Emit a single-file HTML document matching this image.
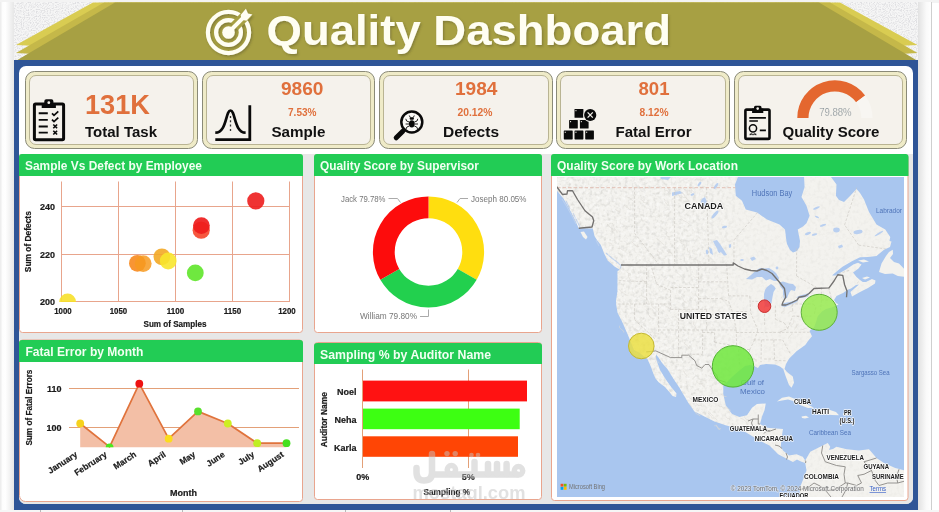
<!DOCTYPE html>
<html>
<head>
<meta charset="utf-8">
<title>Quality Dashboard</title>
<style>
html,body{margin:0;padding:0;background:#fff;}
body{width:939px;height:512px;overflow:hidden;font-family:"Liberation Sans",sans-serif;}
svg{display:block;will-change:transform;}
text{font-family:"Liberation Sans",sans-serif;}
.b{font-weight:bold;}
.ax{font-weight:bold;font-size:9px;fill:#1a1a1a;stroke:#1a1a1a;stroke-width:0.2px;}
.ttl{font-weight:bold;font-size:13px;fill:#f2fff2;}
.kv{font-weight:bold;fill:#e0703c;}
.kl{font-weight:bold;font-size:15.5px;fill:#111;}
.dl{font-size:9.5px;fill:#777;}
</style>
</head>
<body>
<svg width="939" height="512" viewBox="0 0 939 512">
<defs>
  <linearGradient id="lg" x1="0" x2="1" y1="0" y2="0">
    <stop offset="0" stop-color="#fbfbfb"/><stop offset="0.35" stop-color="#ffffff"/><stop offset="1" stop-color="#e4e4e4"/>
  </linearGradient>
  <linearGradient id="rg" x1="0" x2="1" y1="0" y2="0">
    <stop offset="0" stop-color="#e2e2e2"/><stop offset="0.6" stop-color="#fafafa"/><stop offset="1" stop-color="#ffffff"/>
  </linearGradient>
  <filter id="noise" x="0" y="0" width="100%" height="100%">
    <feTurbulence type="fractalNoise" baseFrequency="0.85" numOctaves="1" seed="11" result="n"/>
    <feColorMatrix type="matrix" values="0 0 0 0 0.74  0 0 0 0 0.74  0 0 0 0 0.76  2.6 2.6 0 0 -2.35"/>
  </filter>
  <filter id="ts" x="-5%" y="-20%" width="110%" height="150%">
    <feDropShadow dx="1.2" dy="1.5" stdDeviation="0.9" flood-color="#4a4720" flood-opacity="0.4"/>
  </filter>
  <filter id="reliefD" x="0" y="0" width="100%" height="100%" color-interpolation-filters="sRGB">
    <feTurbulence type="fractalNoise" baseFrequency="0.28" numOctaves="2" seed="4"/>
    <feColorMatrix type="matrix" values="0 0 0 0 0.62  0 0 0 0 0.62  0 0 0 0 0.60  2.4 0 0 0 -1.12"/>
  </filter>
  <filter id="reliefL" x="0" y="0" width="100%" height="100%" color-interpolation-filters="sRGB">
    <feTurbulence type="fractalNoise" baseFrequency="0.3" numOctaves="2" seed="21"/>
    <feColorMatrix type="matrix" values="0 0 0 0 1  0 0 0 0 1  0 0 0 0 1  0 2.6 0 0 -1.15"/>
  </filter>
  <linearGradient id="relg" x1="557" x2="904" y1="0" y2="0" gradientUnits="userSpaceOnUse">
    <stop offset="0" stop-color="#fff"/><stop offset="0.40" stop-color="#eee"/><stop offset="0.55" stop-color="#555"/><stop offset="1" stop-color="#3a3a3a"/>
  </linearGradient>
  <mask id="relmask" maskUnits="userSpaceOnUse" x="557" y="177" width="347" height="320"><rect x="557" y="177" width="347" height="320" fill="url(#relg)"/></mask>
  <clipPath id="wmclip"><rect x="405" y="440" width="136" height="60"/></clipPath>
  <clipPath id="mapclip"><rect x="557" y="177" width="347" height="320"/></clipPath>
  <clipPath id="sc1"><rect x="56" y="178" width="240" height="124"/></clipPath>
</defs>

<!-- page background -->
<rect x="0" y="0" width="939" height="512" fill="#ffffff"/>
<rect x="0" y="0" width="939" height="3" fill="#f3f3f3"/>
<rect x="0" y="2" width="15" height="510" fill="url(#lg)"/>
<rect x="918" y="2" width="14" height="510" fill="url(#rg)"/>
<rect x="931" y="2" width="1" height="510" fill="#cfcfcf"/>
<rect x="0" y="2" width="1.5" height="510" fill="#eeeeee"/>

<!-- speckled header background -->
<rect x="14" y="2" width="904" height="60" fill="#f6f6f6"/>
<rect x="14" y="2" width="904" height="60" filter="url(#noise)"/>

<!-- ribbon -->
<g id="ribbon">
  <polygon points="16,45 93,2.500 840,2.500 917.500,45 898,46 889,41 45,41 36,46" fill="#d9cc52"/>
  <polygon points="16,53 104,2.500 830,2.500 917.500,53 900,54 890,48.500 44,48.500 34,54" fill="#c5b849"/>
  <polygon points="16.500,60.500 115,2.500 819,2.500 917,60.500" fill="#a7a043"/>
</g>

<!-- blue frame -->
<rect x="14" y="60" width="904" height="450" fill="#2f5597"/>
<path d="M26,66 H906 a7,7 0 0 1 7,7 V497 a7,7 0 0 1 -7,7 H26 a7,7 0 0 1 -7,-7 V73 a7,7 0 0 1 7,-7 Z" fill="#ffffff"/>
<path d="M19,154 H913 V497 a7,7 0 0 1 -7,7 H26 a7,7 0 0 1 -7,-7 Z" fill="#e7e7e7"/>

<!-- bottom strip -->
<rect x="0" y="510" width="939" height="2" fill="#f6f6f6"/>
<path d="M40.500,510 V512 M182.500,510 V512 M345.500,510 V512 M450.500,510 V512" stroke="#b8b8b8" stroke-width="1" fill="none"/>

<!-- title -->
<g id="title" filter="url(#ts)">
  <g fill="none" stroke="#fffef2" stroke-width="4.200">
    <circle cx="228.500" cy="32.500" r="20.600"/>
    <circle cx="228.500" cy="32.500" r="12.400"/>
  </g>
  <path d="M234.500,26.500 L248,13" stroke="#a7a043" stroke-width="10" fill="none"/>
  <circle cx="228.500" cy="32.500" r="6.300" fill="#fffef2"/>
  <path d="M228.500,32.500 L245.300,15.700" stroke="#fffef2" stroke-width="4" fill="none"/>
  <polygon points="245.900,8.700 248,13.500 252.400,14.500 246.400,20.700 241.700,19.800 240.600,15.100" fill="#fffef2"/>
  <text x="266.500" y="44.900" class="b" font-size="43.200" fill="#fffef2" textLength="404.500" lengthAdjust="spacingAndGlyphs">Quality Dashboard</text>
</g>

<!-- KPI cards -->
<g id="cards">
  <g id="cardshapes" fill="#f5f2ec">
    <g><rect x="25.5" y="71.5" width="172" height="77" rx="9" fill="#efebc8" stroke="#8a8a78" stroke-width="1"/><rect x="29.5" y="75.5" width="164" height="69" rx="6.5" stroke="#b9b493" stroke-width="1"/></g>
    <g><rect x="202.5" y="71.5" width="172" height="77" rx="9" fill="#efebc8" stroke="#8a8a78" stroke-width="1"/><rect x="206.5" y="75.5" width="164" height="69" rx="6.5" stroke="#b9b493" stroke-width="1"/></g>
    <g><rect x="379.5" y="71.5" width="173" height="77" rx="9" fill="#efebc8" stroke="#8a8a78" stroke-width="1"/><rect x="383.5" y="75.5" width="165" height="69" rx="6.5" stroke="#b9b493" stroke-width="1"/></g>
    <g><rect x="556.5" y="71.5" width="173" height="77" rx="9" fill="#efebc8" stroke="#8a8a78" stroke-width="1"/><rect x="560.5" y="75.5" width="165" height="69" rx="6.5" stroke="#b9b493" stroke-width="1"/></g>
    <g><rect x="734.5" y="71.5" width="172" height="77" rx="9" fill="#efebc8" stroke="#8a8a78" stroke-width="1"/><rect x="738.5" y="75.5" width="164" height="69" rx="6.5" stroke="#b9b493" stroke-width="1"/></g>
  </g>
  <!-- card 1 -->
  <text x="85" y="113.5" class="kv" font-size="27" textLength="65" lengthAdjust="spacingAndGlyphs">131K</text>
  <text x="85" y="136.5" class="kl" textLength="72" lengthAdjust="spacingAndGlyphs">Total Task</text>
  <!-- card 2 -->
  <text x="281" y="94.5" class="kv" font-size="17.5" textLength="42.5" lengthAdjust="spacingAndGlyphs">9860</text>
  <text x="288" y="115.5" class="kv" font-size="10.5" textLength="28.5" lengthAdjust="spacingAndGlyphs">7.53%</text>
  <text x="271.5" y="136.5" class="kl" textLength="54" lengthAdjust="spacingAndGlyphs">Sample</text>
  <!-- card 3 -->
  <text x="455" y="94.5" class="kv" font-size="17.5" textLength="42.5" lengthAdjust="spacingAndGlyphs">1984</text>
  <text x="457.5" y="115.5" class="kv" font-size="10.5" textLength="35" lengthAdjust="spacingAndGlyphs">20.12%</text>
  <text x="443" y="136.5" class="kl" textLength="56" lengthAdjust="spacingAndGlyphs">Defects</text>
  <!-- card 4 -->
  <text x="638.5" y="94.5" class="kv" font-size="17.5" textLength="31" lengthAdjust="spacingAndGlyphs">801</text>
  <text x="639.5" y="115.5" class="kv" font-size="10.5" textLength="29" lengthAdjust="spacingAndGlyphs">8.12%</text>
  <text x="615.5" y="136.5" class="kl" textLength="76" lengthAdjust="spacingAndGlyphs">Fatal Error</text>
  <!-- card 5 -->
  <path d="M797.300,117.900 A37.600,37.600 0 0 1 865.120,95.530 L856.120,102.200 A26.400,26.400 0 0 0 808.500,117.900 Z" fill="#e4672f"/>
  <path d="M865.120,95.530 A37.600,37.600 0 0 1 872.500,117.900 H861.300 A26.400,26.400 0 0 0 856.120,102.200 Z" fill="#f8f6f2"/>
  <text x="835.400" y="116" font-size="11.200" fill="#7f8a90" stroke="#f5f2ec" stroke-width="0.220" text-anchor="middle" textLength="32.500" lengthAdjust="spacingAndGlyphs">79.88%</text>
  <text x="782.5" y="136.5" class="kl" textLength="97" lengthAdjust="spacingAndGlyphs">Quality Score</text>
</g>

<!-- ICONS -->
<g id="icons">
  <!-- clipboard checklist -->
  <g>
    <rect x="34.400" y="104.100" width="29.200" height="35.600" rx="1.200" fill="none" stroke="#0a0a0a" stroke-width="3"/>
    <path d="M41.700,108 V103.600 H44.300 V101.200 a2,2 0 0 1 2,-2 H51.400 a2,2 0 0 1 2,2 V103.600 H55.900 V108 Z" fill="#0a0a0a"/>
    <circle cx="48.800" cy="102.700" r="1.400" fill="#f5f2ec"/>
    <g stroke="#0a0a0a" stroke-width="1.900" fill="none">
      <path d="M38.700,113.300 H47.800 M38.700,119.900 H47.800 M38.700,126.500 H47.800 M38.700,132.600 H47.800"/>
      <path d="M52,113.300 l2,2 l4.300,-4 M52,119.600 l2,2 l4.300,-4" stroke-width="1.700"/>
      <path d="M53.300,124.500 l3.800,3.800 m0,-3.800 l-3.800,3.800 M53.300,130.700 l3.800,3.800 m0,-3.800 l-3.800,3.800" stroke-width="1.600"/>
    </g>
  </g>
  <!-- bell curve -->
  <g fill="none" stroke="#0a0a0a">
    <path d="M249.800,105.300 V139.600 H215.300" stroke-width="2.800"/>
    <path d="M215.300,132.700 C227,132.700 225.500,110.500 230.500,110.500 C235.500,110.500 234,132.700 245.600,132.700" stroke-width="2.700"/>
    <path d="M230.500,116 V133" stroke-width="1.300" stroke-dasharray="2 2.300" stroke="#333"/>
  </g>
  <!-- magnifier bug -->
  <g>
    <circle cx="411.800" cy="122" r="10.500" fill="#fbfaf7" stroke="#0a0a0a" stroke-width="2.500"/>
    <path d="M404.600,129.600 L401.800,132.200" stroke="#0a0a0a" stroke-width="2.400" fill="none"/>
    <path d="M402.800,131.200 L396.200,137.800" stroke="#0a0a0a" stroke-width="5" stroke-linecap="round" fill="none"/>
    <ellipse cx="411.800" cy="123.800" rx="2.900" ry="3.600" fill="#0a0a0a"/>
    <rect x="409.700" y="117.200" width="4.200" height="2.600" rx="1" fill="#0a0a0a"/>
    <g stroke="#0a0a0a" stroke-width="0.900" fill="none">
      <path d="M410.300,117.500 l-1,-2 M413.300,117.500 l1,-2"/>
      <path d="M409.200,122 l-2.600,-1 l-0.800,-2.200 M414.400,122 l2.600,-1 l0.800,-2.200"/>
      <path d="M409,124 h-3.400 M414.600,124 h3.400"/>
      <path d="M409.300,126 l-2.400,1 l-1,2.200 M414.300,126 l2.400,1 l1,2.200"/>
    </g>
  </g>
  <!-- boxes with x -->
  <g fill="#0a0a0a">
    <rect x="563.800" y="130.500" width="8.900" height="8.900" rx="0.600"/>
    <rect x="574.500" y="130.500" width="8.900" height="8.900" rx="0.600"/>
    <rect x="585.200" y="130.500" width="8.700" height="8.900" rx="0.600"/>
    <rect x="569.100" y="119.900" width="8.700" height="8.700" rx="0.600"/>
    <rect x="579.900" y="119.900" width="8.700" height="8.700" rx="0.600"/>
    <rect x="574.500" y="108.900" width="8.900" height="8.900" rx="0.600"/>
    <g fill="#f5f2ec">
      <rect x="564.700" y="131.700" width="1.100" height="1.100"/><rect x="575.400" y="131.700" width="1.100" height="1.100"/><rect x="586.100" y="131.700" width="1.100" height="1.100"/>
      <rect x="570" y="121.100" width="1.100" height="1.100"/><rect x="580.800" y="121.100" width="1.100" height="1.100"/><rect x="575.400" y="110.100" width="1.100" height="1.100"/>
    </g>
    <circle cx="590.200" cy="115" r="7" fill="#f5f2ec"/>
    <circle cx="590.200" cy="115" r="6.100"/>
    <path d="M587.600,112.400 l5.200,5.200 m0,-5.200 l-5.200,5.200" stroke="#f5f2ec" stroke-width="1.300" fill="none"/>
  </g>
  <!-- clipboard certificate -->
  <g>
    <rect x="745.400" y="109.600" width="24.100" height="29.300" rx="1.200" fill="none" stroke="#0a0a0a" stroke-width="2.600"/>
    <path d="M752.100,113 V108.600 H754 V107.300 a1.500,1.500 0 0 1 1.500,-1.500 H760 a1.500,1.500 0 0 1 1.500,1.500 V108.600 H763.300 V113 Z" fill="#0a0a0a"/>
    <circle cx="757.700" cy="108.600" r="1.300" fill="#f5f2ec"/>
    <g stroke="#0a0a0a" stroke-width="1.700" fill="none">
      <path d="M749.300,117.900 H765.900 M749.300,121 H757.900 M759.800,130.300 H765.900"/>
      <circle cx="753" cy="128.300" r="3.600" stroke-width="1.500"/>
    </g>
    <path d="M750,133.200 l1.300,1.800 l-1.800,0.300 Z M756,133.200 l-1.300,1.800 l1.800,0.300 Z M750.400,133 l1.700,2.600 l0.900,-1.700 Z M755.600,133 l-1.700,2.600 l-0.900,-1.700 Z" fill="#0a0a0a"/>
  </g>
</g>

<!-- PANEL 1: scatter -->
<g id="p1">
  <rect x="19.5" y="154.5" width="283" height="178" rx="3" fill="#ffffff" stroke="#e9a58e"/>
  <path d="M19,157 a3,3 0 0 1 3,-3 H300 a3,3 0 0 1 3,3 V176 H19 Z" fill="#22cc55"/>
  <text x="25" y="170" class="ttl" textLength="177" lengthAdjust="spacingAndGlyphs">Sample Vs Defect by Employee</text>
  <g stroke="#e8a58c" stroke-width="1" fill="none">
    <path d="M61.5,181.5 V302 M118.5,181.5 V302 M175.5,181.5 V302 M232.5,181.5 V302 M289.5,181.5 V302"/>
    <path d="M61,206.5 H289.5 M61,254.5 H289.5 M61,301.5 H289.5"/>
  </g>
  <g clip-path="url(#sc1)">
    <circle cx="67.6" cy="302" r="8.4" fill="#f7e02a" fill-opacity="0.9"/>
    <circle cx="137.4" cy="263.3" r="8.4" fill="#f78a1e" fill-opacity="0.9"/>
    <circle cx="143.2" cy="263.6" r="8.4" fill="#f79a20" fill-opacity="0.85"/>
    <circle cx="161.9" cy="256.8" r="8.4" fill="#f3a826" fill-opacity="0.9"/>
    <circle cx="168.2" cy="261" r="8.4" fill="#f8e62c" fill-opacity="0.9"/>
    <circle cx="195.3" cy="272.9" r="8.4" fill="#5fe62a" fill-opacity="0.9"/>
    <circle cx="201.2" cy="230.2" r="8.6" fill="#f5452a" fill-opacity="0.9"/>
    <circle cx="201.4" cy="225.6" r="8.4" fill="#ee1c1c" fill-opacity="0.92"/>
    <circle cx="255.8" cy="200.9" r="8.6" fill="#ee2222" fill-opacity="0.92"/>
  </g>
  <g class="ax" text-anchor="end">
    <text x="55" y="209.8">240</text><text x="55" y="257.8">220</text><text x="55" y="305">200</text>
  </g>
  <g class="ax" text-anchor="middle">
    <text x="63" y="314" textLength="17.500" lengthAdjust="spacingAndGlyphs">1000</text><text x="118.5" y="314" textLength="17.500" lengthAdjust="spacingAndGlyphs">1050</text><text x="175.5" y="314" textLength="17.500" lengthAdjust="spacingAndGlyphs">1100</text><text x="232.5" y="314" textLength="17.500" lengthAdjust="spacingAndGlyphs">1150</text><text x="287" y="314" textLength="17.500" lengthAdjust="spacingAndGlyphs">1200</text>
    <text x="175" y="327.3" font-size="9" textLength="63" lengthAdjust="spacingAndGlyphs">Sum of Samples</text>
    <text transform="translate(31,241.7) rotate(-90)" font-size="9" textLength="61" lengthAdjust="spacingAndGlyphs">Sum of Defects</text>
  </g>
</g>

<!-- PANEL 2: donut -->
<g id="p2">
  <rect x="314.5" y="154.5" width="227" height="178" rx="3" fill="#ffffff" stroke="#e9a58e"/>
  <path d="M314,157 a3,3 0 0 1 3,-3 H539 a3,3 0 0 1 3,3 V176 H314 Z" fill="#22cc55"/>
  <text x="320" y="170" class="ttl" textLength="159" lengthAdjust="spacingAndGlyphs">Quality Score by Supervisor</text>
  <g fill="none" stroke-width="21.8">
    <path d="M428.5,207.3 A44.7,44.7 0 0 1 467.2,274.35" stroke="#ffde0f"/>
    <path d="M467.2,274.35 A44.7,44.7 0 0 1 389.8,274.35" stroke="#22d04e"/>
    <path d="M389.8,274.35 A44.7,44.7 0 0 1 428.5,207.3" stroke="#fd0c0c"/>
  </g>
  <g fill="none" stroke="#aaaaaa" stroke-width="1">
    <path d="M388.5,198.5 H397.5 L400.5,202.5"/>
    <path d="M468,198.5 H460 L457,202.5"/>
    <path d="M420,316.5 H428.5 V309.5"/>
  </g>
  <text x="341" y="201.5" class="dl" textLength="44.5" lengthAdjust="spacingAndGlyphs">Jack 79.78%</text>
  <text x="471" y="201.5" class="dl" textLength="55.5" lengthAdjust="spacingAndGlyphs">Joseph 80.05%</text>
  <text x="360" y="319" class="dl" textLength="57" lengthAdjust="spacingAndGlyphs">William 79.80%</text>
</g>

<!-- PANEL 3: fatal error line -->
<g id="p3">
  <path d="M19.500,343 a3,3 0 0 1 3,-3 H299.500 a3,3 0 0 1 3,3 V498.500 a3,3 0 0 1 -3,3 H25.500 a6,6 0 0 1 -6,-6 Z" fill="#ffffff" stroke="#e9a58e"/>
  <path d="M19,343 a3,3 0 0 1 3,-3 H300 a3,3 0 0 1 3,3 V362 H19 Z" fill="#22cc55"/>
  <text x="25.5" y="356" class="ttl" textLength="118" lengthAdjust="spacingAndGlyphs">Fatal Error by Month</text>
  <g stroke="#e3a078" stroke-width="1" fill="none"><path d="M69,388.5 H299 M69,427.5 H299"/></g>
  <path d="M80.2,423.5 L109.6,446.8 L139.3,383.7 L168.7,438.7 L198,411.4 L227.8,423.5 L257.2,443.2 L286.5,443.2 V447.3 H80.2 Z" fill="#f3bfa6"/>
  <path d="M80.2,423.5 L109.6,446.8 L139.3,383.7 L168.7,438.7 L198,411.4 L227.8,423.5 L257.2,443.2 L286.5,443.2" fill="none" stroke="#e0733c" stroke-width="1.7" stroke-linejoin="round"/>
  <circle cx="80.2" cy="423.5" r="3.9" fill="#f6d21c"/>
  <path d="M105.7,447.3 a3.9,3.9 0 0 1 7.800,0 Z" fill="#4be81e"/>
  <circle cx="139.3" cy="383.7" r="3.9" fill="#ee1111"/>
  <circle cx="168.7" cy="438.7" r="3.9" fill="#fbdc1e"/>
  <circle cx="198" cy="411.4" r="3.9" fill="#58e02c"/>
  <circle cx="227.8" cy="423.5" r="3.9" fill="#cdee22"/>
  <circle cx="257.2" cy="443.2" r="3.9" fill="#bfee22"/>
  <circle cx="286.5" cy="443.2" r="3.9" fill="#46e020"/>
  <g class="ax" text-anchor="end"><text x="61.5" y="391.8">110</text><text x="61.5" y="430.8">100</text></g>
  <g class="ax" text-anchor="end" style="font-size:8.600px">
    <text transform="translate(78,456) rotate(-33)">January</text>
    <text transform="translate(107.500,456) rotate(-33)">February</text>
    <text transform="translate(137,456) rotate(-33)">March</text>
    <text transform="translate(166.500,456) rotate(-33)">April</text>
    <text transform="translate(196,456) rotate(-33)">May</text>
    <text transform="translate(225.500,456) rotate(-33)">June</text>
    <text transform="translate(255,456) rotate(-33)">July</text>
    <text transform="translate(284.500,456) rotate(-33)">August</text>
  </g>
  <g class="ax" text-anchor="middle">
    <text x="183.5" y="495.5" font-size="9">Month</text>
    <text transform="translate(31.500,407.6) rotate(-90)" font-size="9" textLength="76" lengthAdjust="spacingAndGlyphs">Sum of Fatal Errors</text>
  </g>
</g>

<!-- PANEL 4: sampling bars -->
<g id="p4">
  <rect x="314.5" y="342.5" width="227" height="157" rx="3" fill="#ffffff" stroke="#e9a58e"/>
  <path d="M314,346 a3,3 0 0 1 3,-3 H539 a3,3 0 0 1 3,3 V364 H314 Z" fill="#22cc55"/>
  <text x="320" y="358.5" class="ttl" textLength="171" lengthAdjust="spacingAndGlyphs">Sampling % by Auditor Name</text>
  <g stroke="#e3a078" stroke-width="1" fill="none"><path d="M362.500,369.5 V468 M468.500,369.5 V468"/></g>
  <rect x="363" y="380.6" width="164" height="20.8" fill="#ff1212"/>
  <rect x="363" y="408.6" width="156.7" height="20.6" fill="#3dff12"/>
  <rect x="363" y="436.3" width="155" height="20.5" fill="#ff4505"/>
  <g class="ax" text-anchor="end"><text x="356.5" y="395.3">Noel</text><text x="356.5" y="422.5">Neha</text><text x="356.5" y="450.8">Karla</text></g>
  <g class="ax" text-anchor="middle">
    <text x="362.700" y="480">0%</text><text x="468.200" y="480">5%</text>
    <text x="446.800" y="494.5" font-size="9" textLength="46.500" lengthAdjust="spacingAndGlyphs">Sampling %</text>
    <text transform="translate(326.500,419.7) rotate(-90)" font-size="9" textLength="55" lengthAdjust="spacingAndGlyphs">Auditor Name</text>
  </g>
</g>

<!-- watermark -->
<g id="wm" opacity="0.5" clip-path="url(#wmclip)">
  <g fill="none" stroke="#c4c4c4" stroke-width="6.500" stroke-linecap="round" stroke-linejoin="round">
    <path d="M432,474.600 H517"/>
    <circle cx="518.500" cy="470.800" r="4.200" stroke-width="5.500"/>
    <path d="M488,474 V464 M497,474 V464 M506.600,474 V464"/>
    <path d="M474.500,474 V462"/>
    <circle cx="451.400" cy="469.800" r="4.200" stroke-width="5.500"/>
    <path d="M432,454 V473 Q432,480.500 424,480.500 Q416.500,480.500 416.500,472 V468"/>
  </g>
  <g fill="#c4c4c4">
    <circle cx="447" cy="453.600" r="2.700"/><circle cx="455.200" cy="453.600" r="2.700"/>
    <circle cx="471.500" cy="455" r="2.300"/><circle cx="478" cy="455" r="2.300"/>
    <text x="412.500" y="499.300" font-weight="bold" font-size="18" textLength="113" lengthAdjust="spacingAndGlyphs">mostaql.com</text>
  </g>
</g>

<!-- PANEL 5: map -->
<g id="p5">
  <rect x="551.5" y="154.500" width="356.500" height="346" rx="3" fill="#ffffff" stroke="#e9a58e"/>
  <path d="M551,157 a3,3 0 0 1 3,-3 H905.500 a3,3 0 0 1 3,3 V176 H551 Z" fill="#22cc55"/>
  <text x="557" y="170" class="ttl" textLength="181" lengthAdjust="spacingAndGlyphs">Quality Score by Work Location</text>
  <g id="map" clip-path="url(#mapclip)">
    <rect x="557" y="177" width="347" height="320" fill="#a9c6ef"/>
    <!--MAPSTART-->
<path d="M556,176 L738.25,176 L735,184.5 L735.75,195.75 L742,200.75 L745.75,209.5 L757,212.6 L767,219.5 L779.5,224.5 L785,229.5 L786.4,241 L787,244 L790,250 L793,252.5 L797,251 L799.5,247 L800,241 L797.75,229.5 L803,226.5 L806.5,223.25 L809.6,215.75 L806.5,205.75 L801.5,197 L804.6,187 L804,176 L830.25,176 L836.5,184.5 L835.9,195.75 L839,200 L844,202 L850.25,195.75 L856.5,188.9 L860,193 L864,199.5 L869,212 L876.5,224.5 L885.25,229.5 L890.25,237 L889.5,241 L891.5,241.5 L890,247 L884,249.75 L876.5,256 L868,257 L860,257.3 L851.9,261.25 L842.5,266.7 L837.8,270.6 L832,275.5 L835.5,275.5 L839.4,273.2 L845.6,269.8 L853.4,264.6 L858,262.8 L861.5,264.5 L858.5,268.5 L853,272.5 L856.5,277 L860,280 L862.75,282 L866,282 L872,279 L875.5,280.5 L875,283.5 L868,288 L860,292 L852,296.5 L850.5,292 L855,288 L859,284.5 L856,285 L851,288.5 L847.75,289.75 L843,293 L836.5,296 L834,300 L836,303 L838.5,304.5 L835,306 L831.5,307.5 L826,309 L822,311.5 L817.75,316.25 L816,322 L814,327.5 L811,329.5 L809.5,331 L812,336.25 L808,341 L805.25,345 L796.5,351.25 L789,358.75 L786,364 L784.5,369 L787,372 L792.75,376.5 L794,382.75 L791.5,387.75 L789,385 L785.75,376.5 L783.25,369 L780,366.5 L775,364.5 L766,364 L760,365 L758,368 L754,366 L750,365 L745,366 L740,370 L733,376 L726,383 L723.25,385.25 L723.25,394 L725.75,405.25 L732,414 L739.5,417 L747,415.25 L752,407.75 L757,404 L765.75,403.4 L764.5,410.25 L762,416.5 L760,424 L767,427.75 L776,428.5 L783,429 L781.5,438 L780.75,446.75 L783,450.5 L789,455.5 L796.5,454.25 L802.75,456.75 L805.25,460.5 L810.25,451.75 L817.75,448 L827.75,443 L830.25,446.75 L829,450 L833,449 L836.5,446.75 L846.5,449.25 L859,450.5 L869,449.25 L876.5,458 L884,463 L895.25,468 L905,470.5 L905,498 L799,498 L800.25,486.75 L802.75,480.5 L806.5,470.5 L805.25,463 L801.5,461.75 L797,459.5 L793,462 L789,460 L778.25,454.25 L769.5,445.5 L759.5,440.5 L747,433 L744.5,431.5 L734.5,427.75 L725.75,425.25 L714.5,421.5 L704.5,416.5 L694.5,411.5 L688.25,402.75 L679.5,387.75 L672,376.5 L667.5,369 L662.5,363.5 L658.5,357.5 L656,354.5 L656,359 L660,370 L665.5,379 L671.5,387.5 L676.5,393.5 L676,397 L672.5,396 L669,391.5 L665,387 L659,382.5 L655.5,378.5 L653.5,374 L651,367 L647.5,359 L644,356.5 L640,353 L634,350 L630,340 L627.5,334 L622.5,322.5 L617.5,312.5 L616.25,305 L616,301 L617.5,291 L617.5,278.5 L617.5,271 L620,269.8 L614.8,266.7 L607.7,260.6 L604.2,253.5 L600.7,244.8 L597,240 L594.5,236 L592.8,228.5 L585,228.3 L578.7,228.3 L576,222 L570.8,211.4 L563.8,199 L556,189.5 Z" fill="#f3f2ee"/>
<path d="M620,266 L622,268 L621,270 L619,269 Z" fill="#f3f2ee"/>
<path d="M879,272 L881.5,263.5 L886,256 L889,252 L892.75,249.75 L893,254 L890,258 L894,262 L899,263.5 L905,269.75 L905,277 L897.75,276 L892.75,273.5 L885,274 Z" fill="#f3f2ee"/>
<path d="M777,401.5 L782,397.75 L789,396.5 L796.5,399.5 L804,403 L809,405.25 L814,407.75 L808,408 L800,405 L795,401.5 L788,399.5 L782,400.5 Z" fill="#f3f2ee"/>
<path d="M814,409 L822,409.5 L830,410 L836,412 L839,415.25 L832,415 L826,414.5 L820,414.5 L815,413.5 L817,411.5 Z" fill="#f3f2ee"/>
<path d="M801.5,416.5 L806,415.8 L809,417.5 L805,418.6 L802,418 Z" fill="#f3f2ee"/>
<path d="M843,413.3 L848,413.3 L848,415.3 L843,415.3 Z" fill="#f3f2ee"/>
<path d="M858,260.5 L864,259.5 L869,261.5 L863,262.5 Z" fill="#f3f2ee"/>
<path d="M862,278 L867,276.5 L870,277.5 L865,279.5 Z" fill="#f3f2ee"/>
<path d="M580.5,232 L584,231.5 L587.5,237 L586,239.5 L583,237 Z" fill="#f3f2ee"/>
<g fill="none" stroke="#bcd0ee" stroke-width="1.1" opacity="0.9"><path d="M562,199 L567,207 L572,216 L576,224 M566,201 L570,209 M573,213 L578,223 L580,227 M596,240 L599,246 M606,253 L611,257.5 L617,262 L621,265.5 L620.5,268.5"/></g>
<clipPath id="landclip"><path d="M556,176 L738.25,176 L735,184.5 L735.75,195.75 L742,200.75 L745.75,209.5 L757,212.6 L767,219.5 L779.5,224.5 L785,229.5 L786.4,241 L787,244 L790,250 L793,252.5 L797,251 L799.5,247 L800,241 L797.75,229.5 L803,226.5 L806.5,223.25 L809.6,215.75 L806.5,205.75 L801.5,197 L804.6,187 L804,176 L830.25,176 L836.5,184.5 L835.9,195.75 L839,200 L844,202 L850.25,195.75 L856.5,188.9 L860,193 L864,199.5 L869,212 L876.5,224.5 L885.25,229.5 L890.25,237 L889.5,241 L891.5,241.5 L890,247 L884,249.75 L876.5,256 L868,257 L860,257.3 L851.9,261.25 L842.5,266.7 L837.8,270.6 L832,275.5 L835.5,275.5 L839.4,273.2 L845.6,269.8 L853.4,264.6 L858,262.8 L861.5,264.5 L858.5,268.5 L853,272.5 L856.5,277 L860,280 L862.75,282 L866,282 L872,279 L875.5,280.5 L875,283.5 L868,288 L860,292 L852,296.5 L850.5,292 L855,288 L859,284.5 L856,285 L851,288.5 L847.75,289.75 L843,293 L836.5,296 L834,300 L836,303 L838.5,304.5 L835,306 L831.5,307.5 L826,309 L822,311.5 L817.75,316.25 L816,322 L814,327.5 L811,329.5 L809.5,331 L812,336.25 L808,341 L805.25,345 L796.5,351.25 L789,358.75 L786,364 L784.5,369 L787,372 L792.75,376.5 L794,382.75 L791.5,387.75 L789,385 L785.75,376.5 L783.25,369 L780,366.5 L775,364.5 L766,364 L760,365 L758,368 L754,366 L750,365 L745,366 L740,370 L733,376 L726,383 L723.25,385.25 L723.25,394 L725.75,405.25 L732,414 L739.5,417 L747,415.25 L752,407.75 L757,404 L765.75,403.4 L764.5,410.25 L762,416.5 L760,424 L767,427.75 L776,428.5 L783,429 L781.5,438 L780.75,446.75 L783,450.5 L789,455.5 L796.5,454.25 L802.75,456.75 L805.25,460.5 L810.25,451.75 L817.75,448 L827.75,443 L830.25,446.75 L829,450 L833,449 L836.5,446.75 L846.5,449.25 L859,450.5 L869,449.25 L876.5,458 L884,463 L895.25,468 L905,470.5 L905,498 L799,498 L800.25,486.75 L802.75,480.5 L806.5,470.5 L805.25,463 L801.5,461.75 L797,459.5 L793,462 L789,460 L778.25,454.25 L769.5,445.5 L759.5,440.5 L747,433 L744.5,431.5 L734.5,427.75 L725.75,425.25 L714.5,421.5 L704.5,416.5 L694.5,411.5 L688.25,402.75 L679.5,387.75 L672,376.5 L667.5,369 L662.5,363.5 L658.5,357.5 L656,354.5 L656,359 L660,370 L665.5,379 L671.5,387.5 L676.5,393.5 L676,397 L672.5,396 L669,391.5 L665,387 L659,382.5 L655.5,378.5 L653.5,374 L651,367 L647.5,359 L644,356.5 L640,353 L634,350 L630,340 L627.5,334 L622.5,322.5 L617.5,312.5 L616.25,305 L616,301 L617.5,291 L617.5,278.5 L617.5,271 L620,269.8 L614.8,266.7 L607.7,260.6 L604.2,253.5 L600.7,244.8 L597,240 L594.5,236 L592.8,228.5 L585,228.3 L578.7,228.3 L576,222 L570.8,211.4 L563.8,199 L556,189.5 Z"/></clipPath>
<g clip-path="url(#landclip)">
<g opacity="0.30"><rect x="557" y="177" width="347" height="320" filter="url(#reliefD)" mask="url(#relmask)"/></g>
<g opacity="0.55"><rect x="557" y="177" width="347" height="320" filter="url(#reliefL)" mask="url(#relmask)"/></g>
</g>
<path d="M746,279 L751,275 L756,270.5 L760,268 L765,268.5 L769,268 L773,270.5 L776,273 L779,278 L778,281 L774,281 L770,279 L766,280.5 L762,277 L757,277 L752,279.5 Z" fill="#b2caee"/>
<path d="M771,284 L774,286 L775.75,288.5 L773.5,292 L772.5,297 L771.5,303 L768.5,307 L765,306.5 L764,300 L764,294 L765,290 L767,287 Z" fill="#b2caee"/>
<path d="M779,282.5 L783,281.5 L789,283.5 L793,284 L796,287 L795,291 L791,290 L789,293 L787,298 L784,299 L783,295 L783,290 L780,286 Z" fill="#b2caee"/>
<path d="M781,306 L784,303 L790,302 L796,300 L798.6,299.5 L797,302 L791,304.5 L785,307 Z" fill="#b2caee"/>
<path d="M796,297.5 L800,295.5 L806,294 L809.5,293 L808,296.5 L802,298 Z" fill="#b2caee"/>
<path d="M713,241 L717,240 L720,244 L724,250 L727,255 L724,255.5 L720,251 L716,247 Z" fill="#b9cff0"/>
<path d="M709,247 L712,249 L713,255 L710,253 Z" fill="#b9cff0"/>
<path d="M672,192.5 L680,191 L683,193 L676,195 L672,196 Z" fill="#b9cff0"/>
<path d="M702,199 L705,197 L707,202 L704,207 L702,204 Z" fill="#b9cff0"/>
<path d="M660,176 L672,176 L668,180 L661,179 Z" fill="#b9cff0"/>
<path d="M750,258 L754,256.5 L756,259 L752,261 Z" fill="#b9cff0"/>
<path d="M838,246 L842,244.5 L843,247 L839,248.5 Z" fill="#b9cff0"/>
<ellipse cx="699.5" cy="184" rx="2.6" ry="1.2" transform="rotate(-50 699.5 184)" fill="#b9cff0"/>
<ellipse cx="716" cy="186" rx="3.6" ry="1.3" transform="rotate(-55 716 186)" fill="#b9cff0"/>
<ellipse cx="692.5" cy="194.5" rx="2" ry="1" transform="rotate(-20 692.5 194.5)" fill="#b9cff0"/>
<ellipse cx="702.5" cy="200.5" rx="2.6" ry="1.1" transform="rotate(-55 702.5 200.5)" fill="#b9cff0"/>
<ellipse cx="715" cy="214.5" rx="5" ry="1.6" transform="rotate(-50 715 214.5)" fill="#b9cff0"/>
<ellipse cx="724.5" cy="227" rx="2.6" ry="1.2" transform="rotate(-10 724.5 227)" fill="#b9cff0"/>
<ellipse cx="816.5" cy="208" rx="3.6" ry="1" transform="rotate(-25 816.5 208)" fill="#b9cff0"/>
<ellipse cx="817" cy="217" rx="2.2" ry="0.9" transform="rotate(25 817 217)" fill="#b9cff0"/>
<ellipse cx="823" cy="225.3" rx="3.3" ry="1" transform="rotate(-20 823 225.3)" fill="#b9cff0"/>
<ellipse cx="808" cy="233.5" rx="3.2" ry="1.2" transform="rotate(-20 808 233.5)" fill="#b9cff0"/>
<ellipse cx="814.5" cy="234.5" rx="2.8" ry="1" transform="rotate(-15 814.5 234.5)" fill="#b9cff0"/>
<ellipse cx="836.5" cy="230" rx="3.3" ry="2.4" transform="rotate(0 836.5 230)" fill="#b9cff0"/>
<ellipse cx="858" cy="232" rx="4.6" ry="2" transform="rotate(-10 858 232)" fill="#b9cff0"/>
<ellipse cx="879" cy="233.5" rx="5" ry="0.9" transform="rotate(-32 879 233.5)" fill="#b9cff0"/>
<ellipse cx="719" cy="250" rx="1.6" ry="3" transform="rotate(-20 719 250)" fill="#b9cff0"/>
<ellipse cx="707" cy="252" rx="1.2" ry="2.4" transform="rotate(-10 707 252)" fill="#b9cff0"/>
<ellipse cx="742" cy="260" rx="1.8" ry="1" transform="rotate(0 742 260)" fill="#b9cff0"/>
<ellipse cx="777" cy="268" rx="1.4" ry="1.4" transform="rotate(0 777 268)" fill="#b9cff0"/>
<ellipse cx="730" cy="246" rx="1.2" ry="2" transform="rotate(10 730 246)" fill="#b9cff0"/>
<g fill="none" stroke="#dcdad4" stroke-width="0.7" opacity="0.8">
<path d="M633.8,337.7 L634.2,338.9 L635.7,339.6 L637.4,339.6 L639.8,342.2"/>
<path d="M663.9,198.4 L665.1,200.3 L664.9,201.3 L666.8,204.3 L667.9,205.1"/>
<path d="M662.8,304.4 L665.8,305.8 L666.3,307 L668.1,307.2 L670.3,309"/>
<path d="M626.6,271.6 L628.6,273.2 L628.6,276.8 L629.4,278.3 L630.5,280.8"/>
<path d="M676.5,272.5 L678,273.4 L680.5,275.8 L681.5,276.4 L682.3,277.7"/>
<path d="M664.4,189.7 L665.3,190.4 L667.5,190.7 L669,193.5 L670.9,193.4"/>
<path d="M640.2,216.8 L641.7,218.2 L641.3,218.5 L642.3,221.1 L644.6,220.8"/>
<path d="M619.7,325.7 L619.4,327.6 L621.3,329.4 L623.7,331.2 L623.7,332.5"/>
<path d="M668.4,352.3 L669.1,353.3 L670.3,355.8 L672.1,356.3 L674.3,358.5"/>
<path d="M634.2,351.5 L634.8,353.7 L637,352.9 L636.9,354.4 L637.9,354.8"/>
<path d="M683.1,188.2 L685.1,190.1 L687.6,191.3 L687,194.7 L689.5,194.3"/>
<path d="M655.6,355.8 L655.5,357.2 L656.7,360.4 L659,362.6 L659.9,363.5"/>
<path d="M681.3,191.7 L681.7,193.1 L683.8,193.9 L684.8,196.4 L687.2,199.4"/>
<path d="M695.5,293 L695.7,294.9 L697.5,297.1 L700.5,301 L702.9,302.2"/>
<path d="M666.3,231.2 L666.8,232.2 L666.2,234.7 L667.5,236.4 L669.9,237.2"/>
<path d="M640.2,198.9 L643.7,201.4 L643.6,202.5 L647.2,203.1 L647.4,203.8"/>
<path d="M695.6,259.7 L698,260.3 L698,262.6 L699.4,265.5 L700.9,267.2"/>
<path d="M615.4,208.8 L616.2,210.2 L617.6,210.8 L618.8,211 L619.8,212.8"/>
<path d="M618.7,289 L620.9,291.3 L621.5,292.3 L623.5,293.2 L626.4,295.4"/>
<path d="M656.8,238.3 L658.4,240.2 L660.2,241.2 L662.1,243.6 L664.5,244.9"/>
<path d="M693.8,321.3 L693.5,324.2 L694.9,325.9 L696.3,329.1 L699.5,331.8"/>
<path d="M618.3,247.7 L618.3,248.7 L620.3,248.5 L623.3,250.3 L622.9,250.3"/>
<path d="M652.6,309.1 L653.2,311.4 L652.9,312.4 L655.4,314 L655,316.4"/>
<path d="M677.2,194.8 L678.6,194.4 L679.9,197.4 L681.7,197 L681,199.7"/>
<path d="M657.9,249.4 L657.2,251.5 L659.4,252 L659,253 L659.8,253.8"/>
<path d="M645.6,309.4 L647.7,311.8 L648.1,313.8 L649.4,316 L651.5,318.4"/>
<path d="M675.1,316.5 L676.3,317.6 L678.8,319.9 L678.9,320.7 L682,320.8"/>
<path d="M680.9,295.7 L683,298.9 L683.6,300.5 L685.8,302 L686.4,303.3"/>
<path d="M608.4,242.8 L611.4,243.4 L611,243.4 L612.1,244.9 L612.9,245.8"/>
<path d="M627.3,197.5 L629.4,197.6 L630.6,199.3 L633.7,201.1 L635,202.7"/>
<path d="M632.4,326.6 L633.8,328.7 L634.5,328.9 L637.4,330 L638.3,332.7"/>
<path d="M607.4,224.1 L607.8,225.1 L610.5,227.6 L613.1,229.3 L614.5,231.1"/>
<path d="M667.3,250.6 L668.3,252.5 L670.4,252.8 L671.6,253.7 L672.3,252.9"/>
<path d="M679.6,239.6 L681.1,241.6 L680.9,243.1 L683.9,244.6 L685.3,248"/>
<path d="M650.6,303.8 L651.7,304.3 L651.9,306.5 L654.6,308.4 L655.6,309.4"/>
<path d="M667.1,251 L668.6,251.4 L671.2,252.8 L673,255.7 L672.3,255.7"/>
<path d="M680.6,196.1 L681.9,196.3 L683.1,197.4 L686.3,197.6 L687.3,199.6"/>
<path d="M687.7,247.9 L687.5,251.1 L689.7,252.7 L690,254.9 L691.4,258.2"/>
<path d="M684.2,341.9 L684.8,344 L688.2,346.3 L688.6,347.7 L690.3,348.6"/>
<path d="M611.8,222.9 L613.5,224.9 L614.3,228.9 L616.6,230.7 L617.1,233.1"/>
<path d="M693.5,276.3 L695.2,277.6 L695.7,277 L698.9,278 L699.4,279.3"/>
<path d="M631.6,241.8 L633.3,243.2 L634.3,243.8 L636.4,246.7 L639.1,246.2"/>
<path d="M688.9,187.5 L690.5,188.5 L691.6,189.8 L693.7,192.3 L695.4,192.1"/>
<path d="M641.2,280.1 L644.6,281 L644.8,283.4 L646.8,283.7 L646.6,285"/>
<path d="M641.9,292.4 L641.8,296 L645.8,297.5 L647,298.4 L648.5,302.6"/>
<path d="M681,218.5 L683.9,220.9 L686.9,222.1 L688.1,223.3 L689.7,223.9"/>
<path d="M624,205 L626.8,207.3 L627.1,207 L629.6,209.4 L630.9,209.8"/>
<path d="M661.4,357.8 L662.3,358.9 L661.9,359.8 L664.8,362.3 L664.3,362.1"/>
<path d="M650.8,255.3 L651,254.3 L652.6,256.4 L654.7,257 L656.2,259.4"/>
<path d="M651.9,329.6 L652.4,332 L654.5,333.7 L657,333.1 L658.3,334.9"/>
<path d="M724.6,368 L725.4,367.1 L726.1,368.7 L728.7,370.5 L729.3,371.7"/>
<path d="M694.8,367.8 L695.7,368.2 L696.8,368.1 L698.5,369.3 L701.4,369.4"/>
<path d="M744.9,415.7 L744.5,417.1 L746.3,419.3 L747,419.5 L749.5,420.1"/>
<path d="M708,375.6 L711.3,376.6 L712.4,378.4 L713.1,377.7 L715.9,378.9"/>
<path d="M698.4,383.3 L701.3,383.8 L702.4,383.4 L702.1,385.1 L704.6,386.8"/>
<path d="M708.2,412.5 L709.1,414.6 L710.3,415.6 L711.1,415.7 L711.7,416.8"/>
<path d="M732.2,423 L732.7,425.3 L734.2,427.4 L736.3,428.6 L736,428.1"/>
<path d="M688.3,397 L690.5,398.5 L692.2,399.8 L693.5,399.3 L695.3,400.6"/>
<path d="M718.4,404.8 L719.7,406.8 L722,406.4 L723.2,408.4 L724.9,407.6"/>
<path d="M712.1,375.6 L713.8,376.8 L717.1,379 L718.6,380 L720.1,381.6"/>
<path d="M699.4,379 L700.3,379.1 L701.9,379.4 L703.8,380.8 L706.3,380.6"/>
<path d="M726.6,417.3 L726.2,417.1 L727.9,418.7 L729.5,418.5 L729.6,420.4"/>
<path d="M708.4,411.1 L709.6,412.3 L711.6,414.9 L711.7,414.8 L713.5,416.2"/>
<path d="M682.8,371.2 L684.1,371 L684.4,373.1 L686.8,375.2 L686.9,375.9"/>
<path d="M706.3,397.7 L706.4,397.6 L708.7,399.3 L708.4,398.4 L710.8,400.9"/>
<path d="M714.3,425.7 L715.8,425.7 L717.4,426.7 L718.3,428.9 L720.9,428.4"/>
<path d="M695.8,403.1 L698.3,405.3 L698.2,405.5 L700.9,405.3 L702.3,406.4"/>
<path d="M720.8,394 L722.2,394.9 L723.6,395.3 L724.2,396.5 L726.5,396.5"/>
<path d="M711.2,417.5 L712.3,418.1 L714.4,417.9 L715.8,418.6 L717.3,420.6"/>
<path d="M716.2,424.7 L717.3,427.3 L718.3,427.8 L718.4,429 L720.3,429.8"/>
<path d="M740.3,418.2 L743.3,419.2 L745.1,420.9 L746.4,422.1 L747.4,425.1"/>
<path d="M695,411.7 L696.5,414 L698.8,414.7 L699,415.3 L700.2,415.6"/>
<path d="M723.5,406.9 L724.1,408.1 L726.8,408 L728.8,408.8 L730.8,410.5"/>
<path d="M793.4,304 L794.7,303.6 L795.6,304.1 L796.7,302.9 L797.5,301.2"/>
<path d="M780,333.8 L780.8,331.8 L783,330.6 L783.3,330.2 L784.8,329.2"/>
<path d="M787.8,313.3 L788.4,313.3 L789.9,311.3 L791,311.4 L793.6,310.9"/>
<path d="M794.8,327.9 L795.7,326.9 L796.9,326.2 L796.6,325.3 L797,323.6"/>
<path d="M794,329.4 L796.3,327.4 L795.9,326.9 L797.2,325.7 L798.5,323.7"/>
<path d="M791.5,326.7 L791,325.6 L793,323.6 L793.8,322.2 L793.8,320.2"/>
<path d="M788.2,338.8 L789.3,336.6 L790.2,335.6 L791.6,334.5 L791.9,333.4"/>
<path d="M816.8,329.8 L819.2,330.4 L820.9,328.9 L822.7,328.4 L823.3,328.8"/>
<path d="M803.8,308.6 L805.5,307.2 L806.5,305.5 L808.2,303.4 L809,302.4"/>
<path d="M781.1,298.2 L782.3,296.4 L782.7,295.7 L784.7,296.1 L785.6,295.8"/>
<path d="M781.7,313.6 L781.6,312.3 L784.1,311.1 L783.9,308.6 L785,307"/>
<path d="M812.7,302.1 L813.2,300.4 L815.7,299.3 L816.4,298.3 L817.3,296.7"/>
<path d="M790.6,307 L791.6,306.4 L791.4,305.2 L793.2,305 L794.1,304"/>
<path d="M800.6,329.7 L800.9,329.1 L803.7,329.8 L804.1,328.4 L806.5,328.3"/>
</g>
<path d="M634.6,187.7 L634.6,233.2 M634.6,233.2 L658.4,264 M674.6,187.7 L674.6,264 M706.6,187.7 L709,264 M734,261.6 L734,239.9 M734,239.9 L758.6,211.4 M617.8,304 L670.6,304 M646.6,264 L646.6,304 M670.6,287.5 L698.6,287.5 M670.6,290.3 L670.6,309.4 M650.6,264 L656.6,284.1 M656.6,284.1 L670.6,290.3 M670.6,309.4 L706.6,309.4 M658.6,330 L736.2,330 M698.6,264 L698.6,309.4 M678.6,309.4 L678.6,357.6 M702.6,330 L702.6,354.3 M688.2,354.3 L702.6,354.3 M658.6,304 L658.6,334 M634.6,304 L634.6,319.8 M634.6,319.8 L656.2,339.9 M618.6,280.6 L646.6,281.8 M698.6,281.8 L728.2,281.8 M698.6,298.6 L720.6,298.6 M720.6,298.6 L728.6,301.3 M706.6,314.6 L733.4,314.6 M706.6,309.4 L706.6,330 M726.6,264 L728.6,295.9 M728.6,295.9 L749.8,295.9 M714.6,332.5 L714.6,342.3 M702.6,332.5 L714.6,332.5 M714.6,342.3 L736.6,346.2 M738.6,349.5 L749.8,349.5 M738.6,349.5 L739.4,364.5 M736.2,311.5 L748.6,311.5 M736.2,330 L736.6,346.2 M736.2,332.5 L754.6,332.5 M728.6,301.3 L733.4,314.6 M733.4,314.6 L736.2,330 M761.4,339.9 L761,362.2 M773.8,339.9 L774.6,359 M764.2,359 L774.6,359 M774.6,360.4 L786.6,360.8 M753.4,339.9 L782.6,339.9 M756.6,332.5 L811,332.2 M764.6,305.6 L764.6,324.9 M775.4,305.6 L775.4,319.3 M792.6,304 L792.6,311.5 M795.4,304 L813.4,304 M792.6,316.1 L811.4,316.1 M766.6,301.3 L752.2,301.3 M749.8,295.9 L750.6,312.5 M750.6,312.5 L757.8,330 M757.8,330 L754.6,339.9 M754.6,339.9 L749.8,349.5 M749.8,349.5 L748.2,359 M748.2,359 L755.8,359 M755.8,359 L756.2,362.7 M782.6,339.9 L790.6,354.3 M779.8,332 L787.8,328.5 M787.8,328.5 L792.6,316.1 M775.4,319.3 L784.2,322.9 M784.2,322.9 L787.8,328.5 M796.6,316.1 L803.8,318.3 M803.8,318.3 L806.6,323.4 M821.4,287.5 L821.4,300.2 M821.4,300.2 L820.6,309.4 M828.6,287.5 L831.4,298.6 M821.4,300 L830.6,300 M813.4,304 L815.8,307.3 M815.8,307.3 L814.2,314.6 M796.6,248.4 L796.6,276 M796.6,276 L816.6,287.5 M886.2,249 L858.6,245.1 M858.6,245.1 L844.6,224.9 M844.6,224.9 L856.6,187.7 M838.6,273.6 L850.6,270 M858.6,281.8 L857.4,282.9" fill="none" stroke="#c9c6c0" stroke-width="0.6" stroke-dasharray="2.6 1.6"/>
<path d="M557,187.7 L735.4,187.7" fill="none" stroke="#ddb3a6" stroke-width="0.8" stroke-dasharray="3.5 2"/>
<path d="M556,185.75 L562.5,194.5 L567,194 L567.5,190.75 L572.5,190.75 L577.5,199.5 L585,210.75 L592.5,217 L593.75,220.75 L592,227 L578.75,228.25 M621,265 L733.25,265 L733.25,262.9 L738,266 L744.5,269 L751,270.5 L757,271 L762,269 L767,270.5 L772,273.5 L779.5,282.25 L784.5,288.5 L785.75,297.25 L783,302 L782,305 L786,305 L792,302.5 L797,300 L799,297.25 L805.25,296 L809,293.5 L814,288.5 L829,287.9 L834,281 L837.75,274.75 L842.75,275.4 L844.6,284.75 L847,291 L846.5,297.25" fill="none" stroke="#737170" stroke-width="1.35" stroke-linejoin="round"/>
<path d="M646.2,351.9 L655.8,350.9 L670.6,357.6 L681.8,357.6 L681.8,355.2 L688.6,355.2 L695,360.8 L696.6,365.4 L701.8,368.2 L705,364.5 L709,364.5 L713.4,371.4 L716.6,375 L718.2,379.9 L725.8,382.2 M748,421 L753,419 L758.25,419 L758.25,414.5 M753,419 L751.5,423 L753,427 L757,428.5 M758.25,419 L758.25,424 L760,424 M757,428.5 L761,430.5 L763,428.5 L766,430 L770,431 L776,429 M764,433.5 L766,431.5 L770,431 M775,445 L779,446 L782,448.5 M786,453 L787.5,457 L786.5,459.5 M805.25,460.5 L806,462 L805.25,463 M822.75,445.5 L821.5,453 L825.25,461.75 L836.5,465.5 L845.25,466.75 L844,474.25 L845.25,483 L847.75,483 M876.5,458 L870,460 L864,461.75 L871.5,470.5 L864,474.25 L857.75,475.5 L861.5,483 L856.5,485.5 L847.75,483 L846,490 L842,497 M899,469.25 L896.5,476.75 L897.75,483 M871.5,470.5 L875.25,480.5 L879,485.5 L887.75,483 L897.75,483 L905,481 M801.5,489.25 L808,487.5 L814,483 L820,486 L826,491 L831,497 M826,491 L836,489 L845.25,483" fill="none" stroke="#8b8986" stroke-width="0.9" stroke-linejoin="round"/>
<g font-weight="bold" fill="#1c1c1c" font-size="8.3" stroke="#ffffff" stroke-width="1.6" stroke-opacity="0.85" paint-order="stroke" stroke-linejoin="round">
<text x="684.5" y="206" dy="0.36em" textLength="38.8" lengthAdjust="spacingAndGlyphs" font-size="8.6">CANADA</text>
<text x="679.8" y="316" dy="0.36em" textLength="67.5" lengthAdjust="spacingAndGlyphs" font-size="8.3">UNITED STATES</text>
<text x="692.6" y="399.4" dy="0.36em" textLength="25.7" lengthAdjust="spacingAndGlyphs" font-size="7.6">MEXICO</text>
<text x="729.8" y="428.4" dy="0.36em" textLength="37.2" lengthAdjust="spacingAndGlyphs" font-size="6.8">GUATEMALA</text>
<text x="754.8" y="438.6" dy="0.36em" textLength="38.2" lengthAdjust="spacingAndGlyphs" font-size="6.8">NICARAGUA</text>
<text x="794" y="401.8" dy="0.36em" textLength="17" lengthAdjust="spacingAndGlyphs" font-size="6.8">CUBA</text>
<text x="812" y="411.6" dy="0.36em" textLength="17" lengthAdjust="spacingAndGlyphs" font-size="6.8">HAITI</text>
<text x="844" y="412.8" dy="0.36em" textLength="7.5" lengthAdjust="spacingAndGlyphs" font-size="6.8">PR</text>
<text x="839.5" y="420.3" dy="0.36em" textLength="15" lengthAdjust="spacingAndGlyphs" font-size="6.8">(U.S.)</text>
<text x="826.5" y="457.4" dy="0.36em" textLength="37.5" lengthAdjust="spacingAndGlyphs" font-size="7">VENEZUELA</text>
<text x="804" y="476" dy="0.36em" textLength="35" lengthAdjust="spacingAndGlyphs" font-size="7">COLOMBIA</text>
<text x="863.6" y="466.8" dy="0.36em" textLength="25.4" lengthAdjust="spacingAndGlyphs" font-size="7">GUYANA</text>
<text x="872" y="476.5" dy="0.36em" textLength="31.6" lengthAdjust="spacingAndGlyphs" font-size="7">SURINAME</text>
<text x="779.5" y="495.6" dy="0.36em" textLength="28.9" lengthAdjust="spacingAndGlyphs" font-size="7">ECUADOR</text>
</g>
<g fill="#4f74b8" font-size="7.6">
<text x="751.8" y="193" dy="0.36em" textLength="40.5" lengthAdjust="spacingAndGlyphs" font-size="8.4">Hudson Bay</text>
<text x="876" y="210.5" dy="0.36em" textLength="26" lengthAdjust="spacingAndGlyphs" font-size="6.6">Labrador</text>
<text x="851.5" y="373" dy="0.36em" textLength="38.1" lengthAdjust="spacingAndGlyphs" font-size="6.8">Sargasso Sea</text>
<text x="809" y="432.3" dy="0.36em" textLength="42" lengthAdjust="spacingAndGlyphs" font-size="6.8">Caribbean Sea</text>
<text x="740.8" y="382" dy="0.36em" textLength="23.2" lengthAdjust="spacingAndGlyphs" font-size="8">Gulf of</text>
<text x="740" y="391" dy="0.36em" textLength="25" lengthAdjust="spacingAndGlyphs" font-size="8">Mexico</text>
</g>
<circle cx="641.3" cy="346" r="12.8" fill="#ebdf3a" fill-opacity="0.8" stroke="#c4b832" stroke-width="1"/>
<circle cx="764.5" cy="306.2" r="6.3" fill="#f23a3a" fill-opacity="0.85" stroke="#c83030" stroke-width="1"/>
<circle cx="733" cy="366.4" r="20.7" fill="#6ee83c" fill-opacity="0.85" stroke="#52b432" stroke-width="1"/>
<circle cx="819.2" cy="312.3" r="18" fill="#94ea4a" fill-opacity="0.82" stroke="#5eb038" stroke-width="1"/>
<g><rect x="560.6" y="483.8" width="2.8" height="2.8" fill="#f25022"/><rect x="563.8" y="483.8" width="2.8" height="2.8" fill="#7fba00"/><rect x="560.6" y="487" width="2.8" height="2.8" fill="#00a4ef"/><rect x="563.8" y="487" width="2.8" height="2.8" fill="#ffb900"/>
<text x="569" y="489.2" font-size="6.6" fill="#737373" textLength="36" lengthAdjust="spacingAndGlyphs">Microsoft Bing</text></g>
<text x="730.8" y="491.3" font-size="6.4" fill="#6d6d6d" stroke="#f2f2f2" stroke-width="1.2" stroke-opacity="0.6" paint-order="stroke" textLength="133" lengthAdjust="spacingAndGlyphs">© 2023 TomTom, © 2024 Microsoft Corporation</text>
<text x="869.5" y="491.3" font-size="6.4" fill="#3a62c8" text-decoration="underline" textLength="16.5" lengthAdjust="spacingAndGlyphs">Terms</text>
<!--MAPEND-->
  </g>
</g>

</svg>
</body>
</html>
